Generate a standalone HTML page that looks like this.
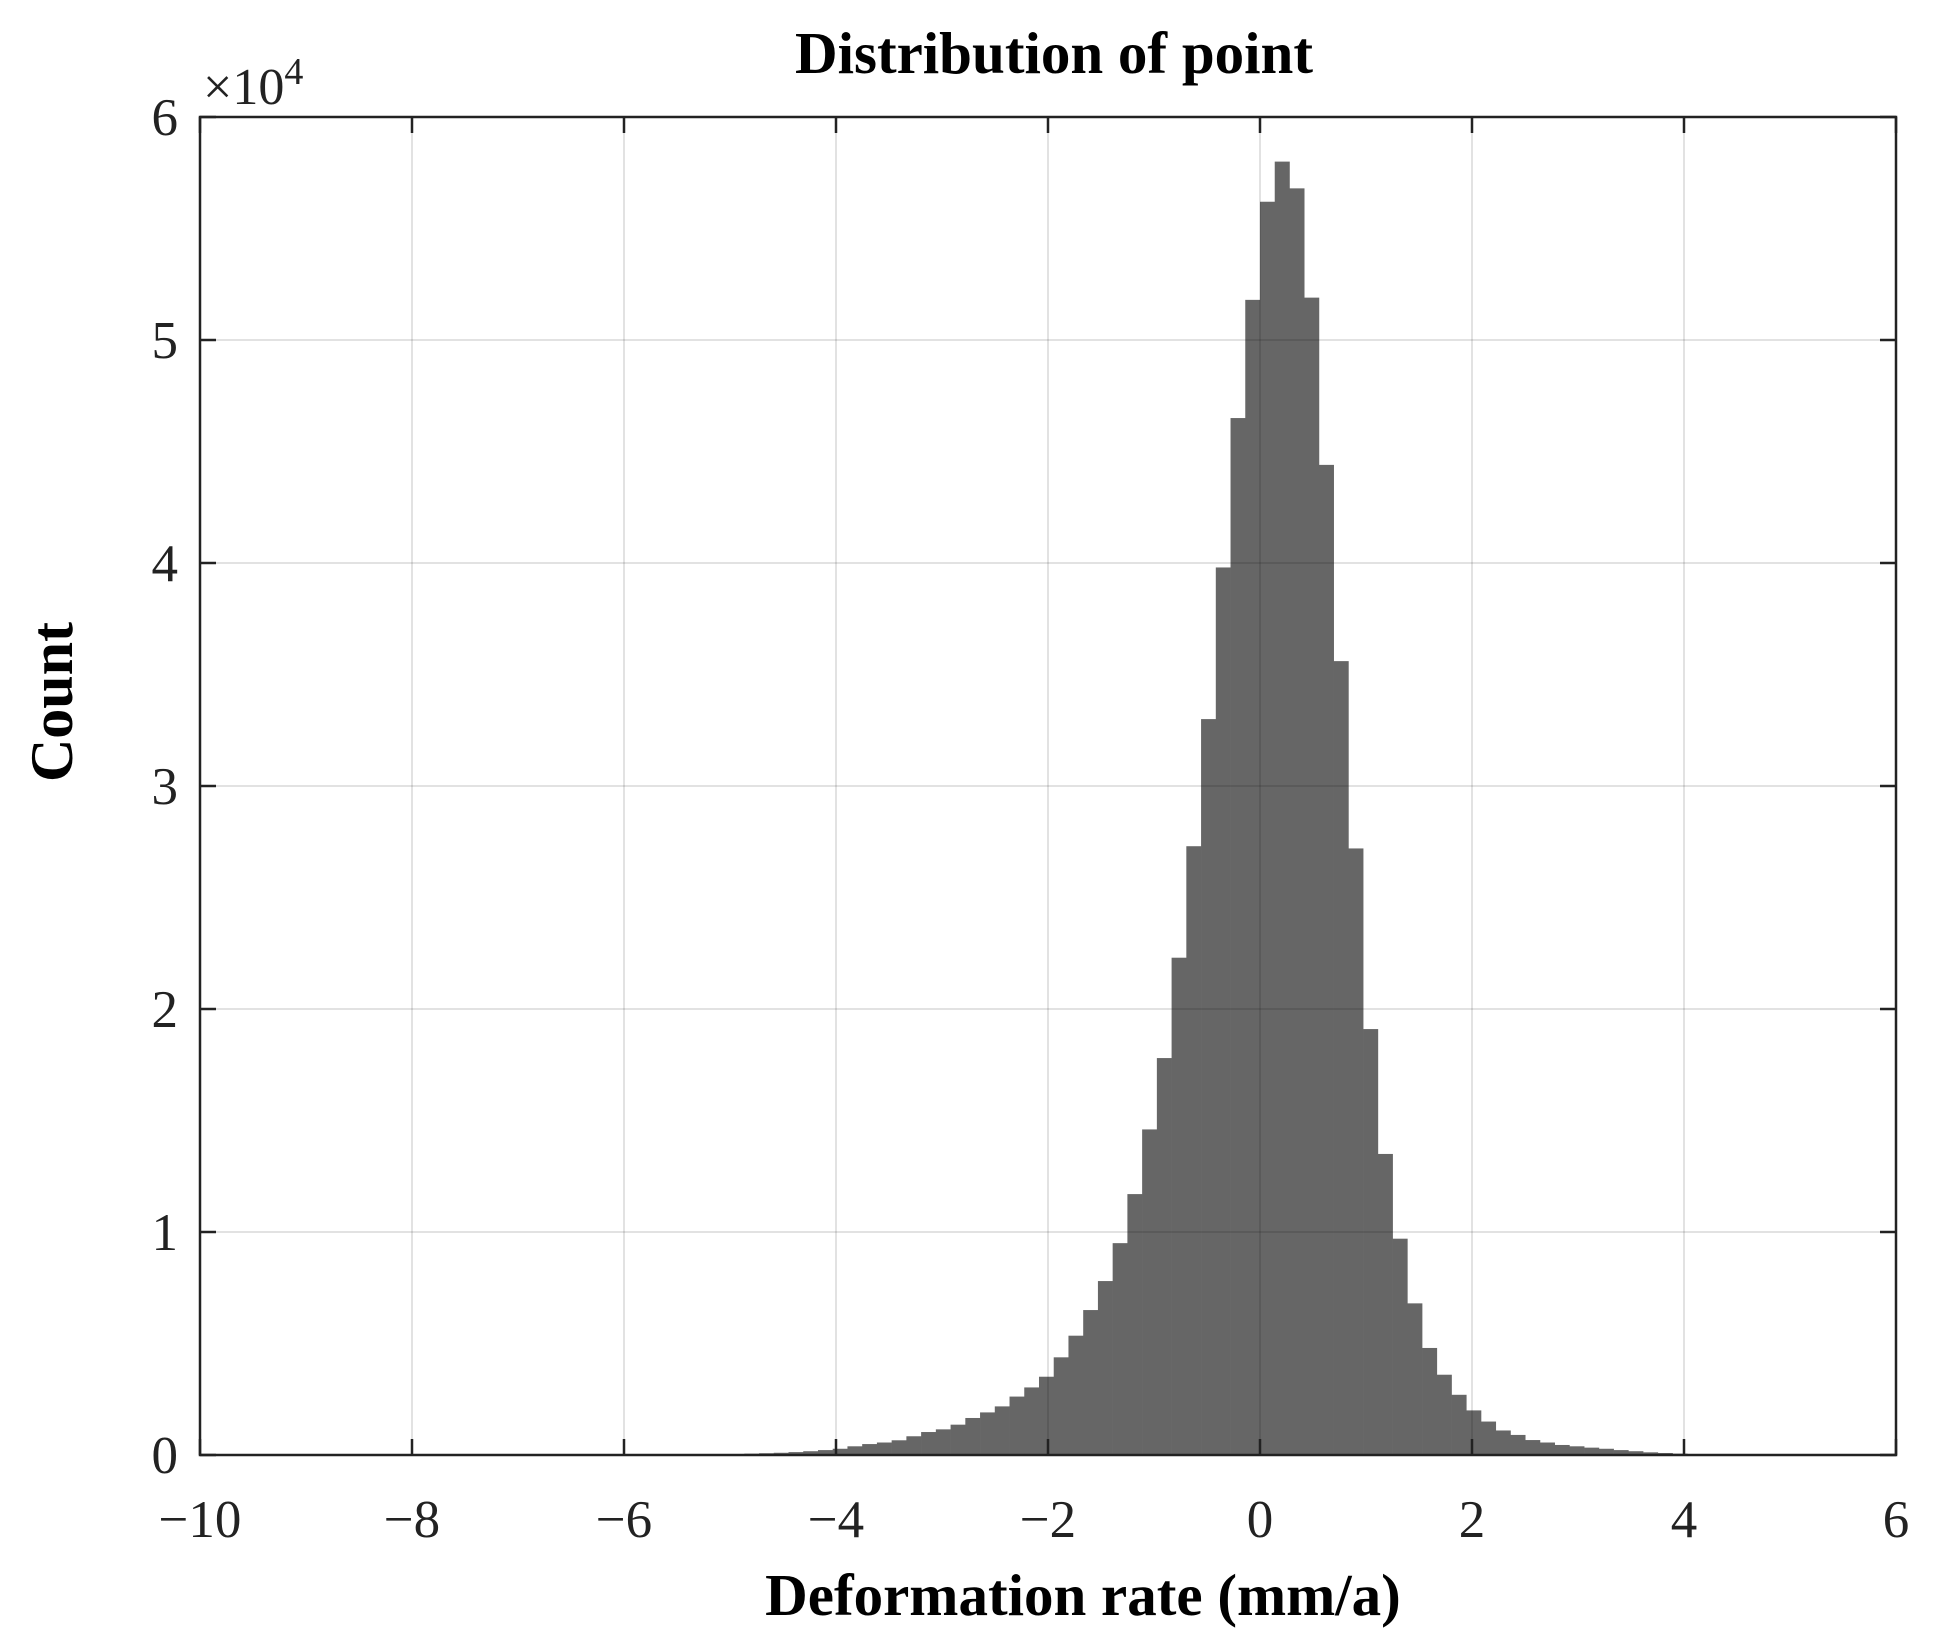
<!DOCTYPE html>
<html><head><meta charset="utf-8"><style>
html,body{margin:0;padding:0;background:#fff;}
svg{display:block;font-family:"Liberation Serif",serif;}
</style></head><body>
<svg id="chart" width="1946" height="1637" viewBox="0 0 1946 1637">
<text x="1054" y="73" text-anchor="middle" font-size="59" font-weight="bold">Distribution of point</text>
<text x="1083" y="1615" text-anchor="middle" font-size="59" font-weight="bold">Deformation rate (mm/a)</text>
<text x="0" y="0" transform="translate(72,702) rotate(-90)" text-anchor="middle" font-size="60" font-weight="bold">Count</text>
<text x="203" y="104" font-size="52" fill="#222">×10<tspan dy="-20" font-size="38">4</tspan></text>
<g id="bars"></g>
<g id="grid"></g>
<g id="axes"></g>
</svg>
<script>
const binWidth = 0.139;
const negCounts = [51800,46500,39800,33000,27300,22300,17800,14600,11700,9500,7800,6500,5350,4380,3510,3030,2620,2180,1910,1660,1360,1150,1030,840,660,560,490,390,280,220,170,130,100,80,60,40,30,20];
const posCounts = [56200,58000,56800,51900,44400,35600,27200,19100,13500,9700,6800,4800,3600,2700,2000,1500,1100,900,670,560,450,390,330,280,220,170,120,90,60,40,30,20];
const xTicks = [-10,-8,-6,-4,-2,0,2,4,6];
const yTicks = [0,10000,20000,30000,40000,50000,60000];
const yTickLabels = ["0","1","2","3","4","5","6"];

const L=200,R=1896,T=117,B=1455;
const xMin=-10,xMax=6,yMax=60000;
const sx=v=>L+(v-xMin)/(xMax-xMin)*(R-L);
const sy=v=>B-v/yMax*(B-T);
const NS='http://www.w3.org/2000/svg';
function mk(tag,attrs,parent){const e=document.createElementNS(NS,tag);for(const k in attrs)e.setAttribute(k,attrs[k]);parent.appendChild(e);return e;}

const bars=document.getElementById('bars');
function drawBar(x0,c,i){
  const r=mk('rect',{x:sx(x0),y:sy(c),width:sx(x0+binWidth)-sx(x0)+0.3,height:B-sy(c),fill:'#666666'},bars);
  
  
}
negCounts.forEach((c,i)=>drawBar(-(i+1)*binWidth,c,'neg'+(i+1)));
posCounts.forEach((c,i)=>drawBar(i*binWidth,c,'pos'+i));

const grid=document.getElementById('grid');
xTicks.forEach(t=>{
  if(t>xMin&&t<xMax){const g=mk('line',{x1:sx(t),x2:sx(t),y1:T,y2:B,stroke:'rgba(0,0,0,0.15)','stroke-width':1.5},grid);
  
  }
});
yTicks.forEach(t=>{
  if(t>0&&t<yMax){const g=mk('line',{x1:L,x2:R,y1:sy(t),y2:sy(t),stroke:'rgba(0,0,0,0.15)','stroke-width':1.5},grid);
  
  }
});

const axes=document.getElementById('axes');
const box=mk('rect',{x:L,y:T,width:R-L,height:B-T,fill:'none',stroke:'#222','stroke-width':2.5},axes);


const tl=16;
xTicks.forEach(t=>{
  const x=sx(t);
  mk('line',{x1:x,x2:x,y1:B,y2:B-tl,stroke:'#222','stroke-width':2.5},axes);
  mk('line',{x1:x,x2:x,y1:T,y2:T+tl,stroke:'#222','stroke-width':2.5},axes);
  const lab=mk('text',{x:x,y:1537,'text-anchor':'middle','font-size':53,fill:'#222'},axes);
  lab.textContent=(t<0?'\u2212'+Math.abs(t):String(t));
  
  
});
yTicks.forEach((t,i)=>{
  const y=sy(t);
  mk('line',{x1:L,x2:L+tl,y1:y,y2:y,stroke:'#222','stroke-width':2.5},axes);
  mk('line',{x1:R,x2:R-tl,y1:y,y2:y,stroke:'#222','stroke-width':2.5},axes);
  const lab=mk('text',{x:178,y:y+18,'text-anchor':'end','font-size':53,fill:'#222'},axes);
  lab.textContent=yTickLabels[i];
  
  
});
</script>
</body></html>
